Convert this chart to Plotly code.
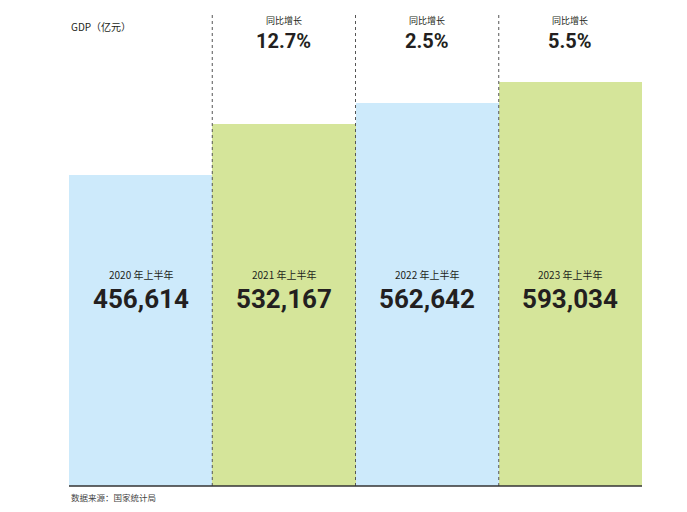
import plotly.graph_objects as go

periods = ["2020 年上半年", "2021 年上半年", "2022 年上半年", "2023 年上半年"]
gdp = [456614, 532167, 562642, 593034]
growth = [None, "12.7%", "2.5%", "5.5%"]
colors = ["#cdeafb", "#d5e59a", "#cdeafb", "#d5e59a"]

OFF = 8  # page body offset
W, H = 687 - 2 * OFF, 512 - 2 * OFF
ML, MR, MT, MB = 69 - OFF, 687 - 642 - OFF, 12 - OFF, 512 - 486 - OFF
plot_h = H - MT - MB

def py(pix):
    # pix: pixel row in the screenshot
    return (H - MB - (pix - OFF)) / plot_h

xs = list(range(len(periods)))
fig = go.Figure(go.Bar(x=xs, y=gdp, marker=dict(color=colors, line=dict(width=0)),
                       width=1.0, hoverinfo="skip"))

TXT = "#231f20"
CJK = "Noto Sans CJK SC"
ann = []
for i, (p, v, g) in enumerate(zip(periods, gdp, growth)):
    ann.append(dict(x=i, y=py(274), xref="x", yref="paper", text=p, showarrow=False,
                    yanchor="middle", font=dict(family=CJK, size=10, color=TXT)))
    ann.append(dict(x=i, y=py(299), xref="x", yref="paper", text=f"<b>{v:,}</b>", showarrow=False,
                    yanchor="middle", font=dict(family="Roboto", size=26, color=TXT)))
    if g:
        ann.append(dict(x=i, y=py(21), xref="x", yref="paper", text="同比增长", showarrow=False,
                        yanchor="middle", font=dict(family=CJK, size=9, color=TXT)))
        ann.append(dict(x=i, y=py(41), xref="x", yref="paper", text=f"<b>{g}</b>", showarrow=False,
                        yanchor="middle", font=dict(family="Roboto", size=20, color=TXT)))

ann.append(dict(x=0, y=py(27), xref="paper", yref="paper", text="GDP（亿元）", showarrow=False,
                xanchor="left", yanchor="middle", font=dict(family=CJK, size=10, color=TXT)))
ann.append(dict(x=0, y=py(497), xref="paper", yref="paper", text="数据来源：国家统计局", showarrow=False,
                xanchor="left", yanchor="middle", font=dict(family=CJK, size=8.5, color="#444444")))

shapes = []
for b in [0.5, 1.5, 2.5]:
    shapes.append(dict(type="line", x0=b, x1=b, xref="x", y0=0, y1=1, yref="paper",
                       line=dict(color="#555555", width=1, dash="3px,3px")))
shapes.append(dict(type="line", x0=-0.5, x1=3.5, xref="x", y0=0, y1=0, yref="paper",
                   line=dict(color="#333333", width=1.5)))

fig.update_layout(
    width=W, height=H, margin=dict(l=ML, r=MR, t=MT, b=MB),
    paper_bgcolor="white", plot_bgcolor="white", showlegend=False,
    bargap=0,
    xaxis=dict(range=[-0.5, 3.5], visible=False, fixedrange=True),
    yaxis=dict(range=[0, 696000], visible=False, fixedrange=True),
    annotations=ann, shapes=shapes,
)
fig.write_html("out.html")
